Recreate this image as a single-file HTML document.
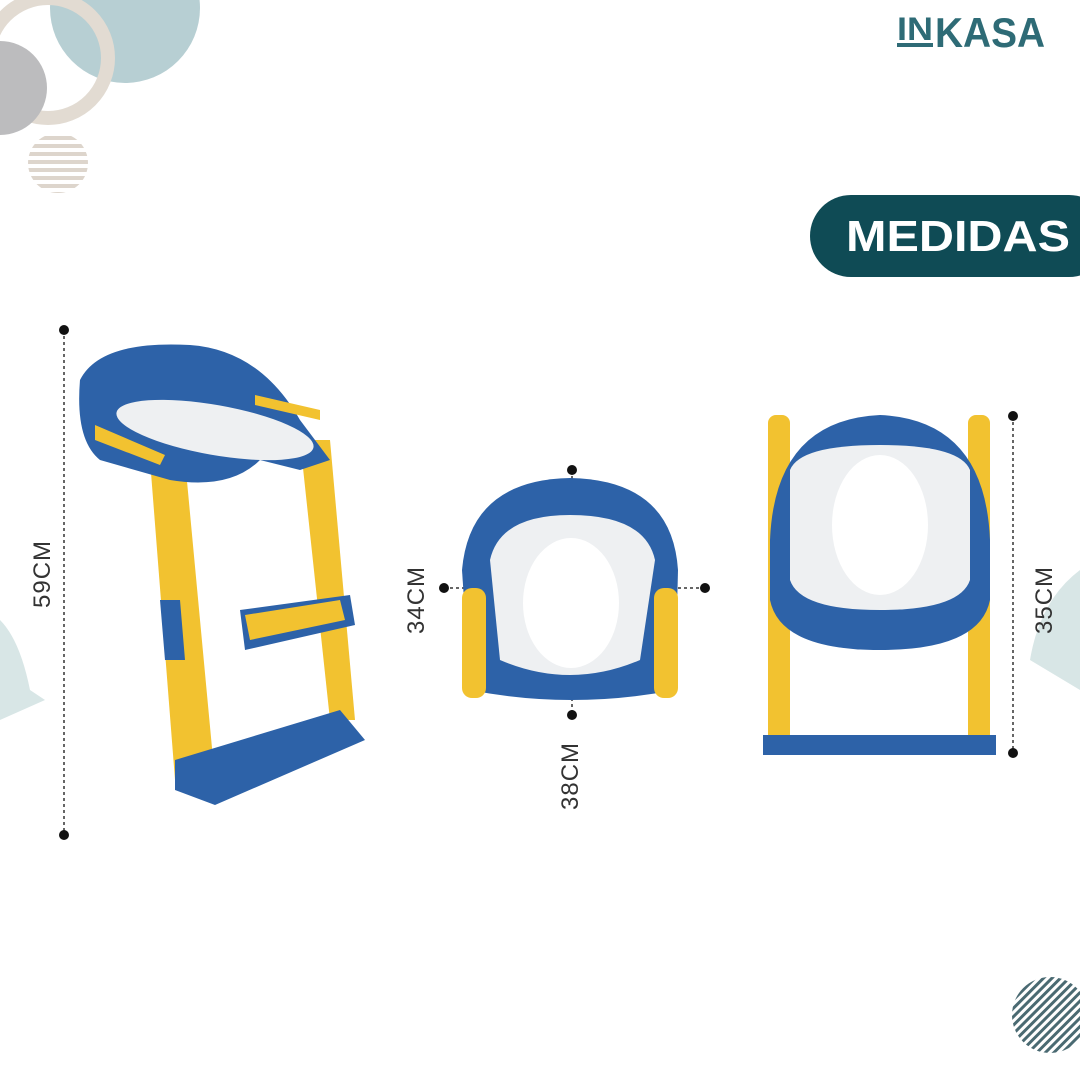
<!DOCTYPE html>
<html><head><style>
body{margin:0;width:1080px;height:1080px;background:#fff;overflow:hidden;font-family:"Liberation Sans",sans-serif}
</style></head><body>
<svg width="1080" height="1080" viewBox="0 0 1080 1080" xmlns="http://www.w3.org/2000/svg">
<defs>
<pattern id="st" width="8" height="8" patternUnits="userSpaceOnUse"><rect width="8" height="4" fill="#ddd5cc"/></pattern>
<pattern id="dg" width="6" height="6" patternUnits="userSpaceOnUse" patternTransform="rotate(45)"><rect width="3" height="6" fill="#4a6a72"/></pattern>
</defs>
<circle cx="125" cy="8" r="75" fill="#b7cfd3"/>
<circle cx="48" cy="58" r="60" fill="none" stroke="#e2dbd2" stroke-width="14"/>
<circle cx="0" cy="88" r="47" fill="#bcbcbe"/>
<circle cx="58" cy="163" r="30" fill="url(#st)"/>
<circle cx="1050" cy="1015" r="38" fill="url(#dg)"/>
<path d="M0 620 Q20 640 30 690 L45 700 L0 720Z" fill="#d8e6e6"/>
<path d="M1080 570 Q1040 600 1030 660 L1080 690Z" fill="#d8e6e6"/>
<text x="897" y="40" font-size="32" font-weight="bold" fill="#2e6b76" textLength="36" lengthAdjust="spacingAndGlyphs">IN</text>
<text x="935" y="47" font-size="42" font-weight="bold" fill="#2e6b76" textLength="110" lengthAdjust="spacingAndGlyphs">KASA</text>
<rect x="897" y="43" width="36" height="4" fill="#2e6b76"/>
<rect x="810" y="195" width="300" height="82" rx="41" fill="#0f4b55"/>
<text x="846" y="251" font-size="44" font-weight="bold" fill="#fff" textLength="224" lengthAdjust="spacingAndGlyphs">MEDIDAS</text>
<g stroke="#333" stroke-width="1.5" stroke-dasharray="3,3" fill="none">
<line x1="64" y1="330" x2="64" y2="835"/>
<line x1="572" y1="470" x2="572" y2="715"/>
<line x1="444" y1="588" x2="705" y2="588"/>
<line x1="1013" y1="416" x2="1013" y2="753"/>
</g>
<g fill="#111"><circle cx="64" cy="330" r="5"/><circle cx="64" cy="835" r="5"/><circle cx="572" cy="470" r="5"/><circle cx="572" cy="715" r="5"/><circle cx="444" cy="588" r="5"/><circle cx="705" cy="588" r="5"/><circle cx="1013" cy="416" r="5"/><circle cx="1013" cy="753" r="5"/></g>
<g font-size="24" fill="#333" letter-spacing="1">
<text transform="translate(50,608) rotate(-90)">59CM</text>
<text transform="translate(424,634) rotate(-90)">34CM</text>
<text transform="translate(578,810) rotate(-90)">38CM</text>
<text transform="translate(1052,634) rotate(-90)">35CM</text>
</g>
<g>
<path d="M150 460 L175 780 L215 780 L185 460Z" fill="#f2c230"/>
<path d="M300 440 L330 720 L355 720 L330 440Z" fill="#f2c230"/>
<path d="M80 380 Q100 340 190 345 Q260 350 300 420 L330 460 L300 470 L260 460 Q230 490 170 480 L100 460 Q75 440 80 380Z" fill="#2d62a8"/>
<ellipse cx="215" cy="430" rx="100" ry="25" fill="#eef0f2" transform="rotate(10 215 430)"/>
<path d="M95 425 L165 455 L160 465 L95 440Z" fill="#f2c230"/>
<path d="M255 395 L320 410 L320 420 L255 405Z" fill="#f2c230"/>
<path d="M240 610 L350 595 L355 625 L245 650Z" fill="#2d62a8"/>
<path d="M245 615 L340 600 L345 620 L250 640Z" fill="#f2c230"/>
<path d="M175 760 L340 710 L365 740 L215 805 L175 790Z" fill="#2d62a8"/>
<path d="M160 600 L180 600 L185 660 L165 660Z" fill="#2d62a8"/>
</g>
<g>
<path d="M462 570 Q470 480 570 478 Q672 480 678 570 L675 690 Q570 710 470 690Z" fill="#2d62a8"/>
<path d="M490 560 Q500 515 570 515 Q645 515 655 560 L640 660 Q570 690 500 660Z" fill="#eef0f2"/>
<ellipse cx="571" cy="603" rx="48" ry="65" fill="#fff"/>
<rect x="462" y="588" width="24" height="110" rx="10" fill="#f2c230"/>
<rect x="654" y="588" width="24" height="110" rx="10" fill="#f2c230"/>
</g>
<g>
<rect x="768" y="415" width="22" height="330" rx="8" fill="#f2c230"/>
<rect x="968" y="415" width="22" height="330" rx="8" fill="#f2c230"/>
<rect x="763" y="735" width="233" height="20" fill="#2d62a8"/>
<path d="M770 540 Q775 420 880 415 Q985 420 990 540 L990 600 Q980 650 880 650 Q780 650 770 600Z" fill="#2d62a8"/>
<path d="M790 470 Q800 445 880 445 Q960 445 970 470 L970 580 Q960 610 880 610 Q800 610 790 580Z" fill="#eef0f2"/>
<ellipse cx="880" cy="525" rx="48" ry="70" fill="#fff"/>
</g>
</svg>
</body></html>
